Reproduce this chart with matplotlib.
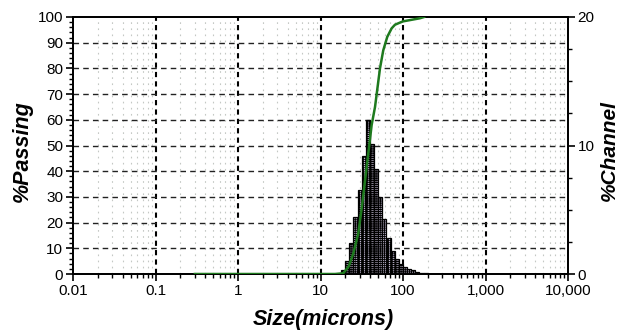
import numpy as np
import matplotlib
matplotlib.use("Agg")
import matplotlib.pyplot as plt
from matplotlib.ticker import FixedLocator, FixedFormatter, MultipleLocator, NullFormatter

plt.rcParams['font.family'] = ['Liberation Sans', 'DejaVu Sans']
plt.rcParams['hatch.linewidth'] = 0.6
plt.rcParams['hatch.color'] = 'black'

# histogram (%Channel), bin left edges in microns, 1/20 decade wide
bin_left = [17.8, 19.95, 22.4, 25.1, 28.2, 31.6, 35.5, 39.8, 44.7, 50.1,
            56.2, 63.1, 70.8, 79.4, 89.1, 100, 112, 126, 141, 158, 178]
channel = [0.3, 1.0, 2.4, 4.4, 6.5, 9.2, 12.0, 10.1, 8.2, 6.0,
           4.3, 2.8, 1.8, 1.2, 0.8, 0.55, 0.4, 0.28, 0.18, 0.1, 0.04]

# cumulative curve (%Passing)
size_um = [0.3, 1, 5, 10, 15, 18.9, 22, 25, 28.7, 32, 36.3, 41.7, 45.8,
           52.6, 57.6, 64.5, 72.9, 80, 91.6, 100, 121.6, 160, 180]
passing = [0, 0, 0, 0, 0, 0.3, 3, 8, 15.8, 27, 41.7, 58, 65,
           80, 87, 92.3, 95.6, 97, 97.8, 98.3, 98.8, 99.5, 100]

x_ticks = [0.01, 0.1, 1, 10, 100, 1000, 10000]
x_labels = ["0.01", "0.1", "1", "10", "100", "1,000", "10,000"]

fig = plt.figure(figsize=(6.21, 3.33), dpi=100)
ax = fig.add_axes([73/621, 1-274/333, 495/621, 257/333])
ax.set_xscale('log')
ax.set_xlim(0.01, 10000)
ax.set_ylim(0, 100)

# grid behind everything
minor_x = [m * 10.0**e for e in range(-2, 4) for m in range(2, 10)]
for xv in minor_x:
    ax.axvline(xv, color='#c4c8c4', lw=0.8, ls=(0, (1.5, 4)), zorder=0)
for xv in x_ticks[1:-1]:
    ax.axvline(xv, color='black', lw=1.5, ls=(0, (2.5, 2)), zorder=0.5)
for yv in range(10, 100, 10):
    ax.axhline(yv, color='#222222', lw=1.0, ls=(0, (4, 3)), zorder=0.5)

# histogram on right axis
ax2 = ax.twinx()
ax2.set_ylim(0, 20)
bl = np.array(bin_left)
bw = bl * (10**0.05) - bl
ax2.bar(bl, channel, width=bw, align='edge', facecolor='#c0b8d0',
        edgecolor='black', linewidth=0.9, hatch='++++++++', zorder=2)
ax2.yaxis.set_major_locator(FixedLocator([0, 10, 20]))
ax2.yaxis.set_minor_locator(MultipleLocator(2.5))
ax2.tick_params(which='major', direction='out', length=5, width=1.2, labelsize=11, pad=2)
ax2.tick_params(which='minor', direction='out', length=3, width=1.0)
for s in ax2.spines.values():
    s.set_linewidth(1.3)

# cumulative curve on top
ax3 = fig.add_axes(ax.get_position(), sharex=ax, sharey=ax)
ax3.axis('off')
ax3.patch.set_visible(False)
ax3.plot(size_um, passing, color='#1e7a1e', lw=1.8, solid_joinstyle='round')

# ticks set last so the twin axes do not reset them
ax.set_xlim(0.01, 10000)
ax.xaxis.set_major_locator(FixedLocator(x_ticks))
ax.xaxis.set_major_formatter(FixedFormatter(x_labels))
ax.xaxis.set_minor_locator(FixedLocator(minor_x))
ax.xaxis.set_minor_formatter(NullFormatter())
ax.yaxis.set_major_locator(MultipleLocator(10))
ax.yaxis.set_minor_locator(MultipleLocator(2))
ax.tick_params(which='major', direction='out', length=5, width=1.2, labelsize=11, pad=2)
ax.tick_params(which='minor', direction='out', length=3, width=1.0)
for s in ax.spines.values():
    s.set_linewidth(1.3)

fig.text(22/621, 1-151/333, "%Passing", rotation=90, ha='center', va='center',
         fontsize=15.5, fontweight='bold', fontstyle='italic')
fig.text(609/621, 1-151/333, "%Channel", rotation=90, ha='center', va='center',
         fontsize=15, fontweight='bold', fontstyle='italic')
fig.text(323/621, 1-320/333, "Size(microns)", ha='center', va='center',
         fontsize=15.5, fontweight='bold', fontstyle='italic')

fig.savefig("out.png", dpi=100)
